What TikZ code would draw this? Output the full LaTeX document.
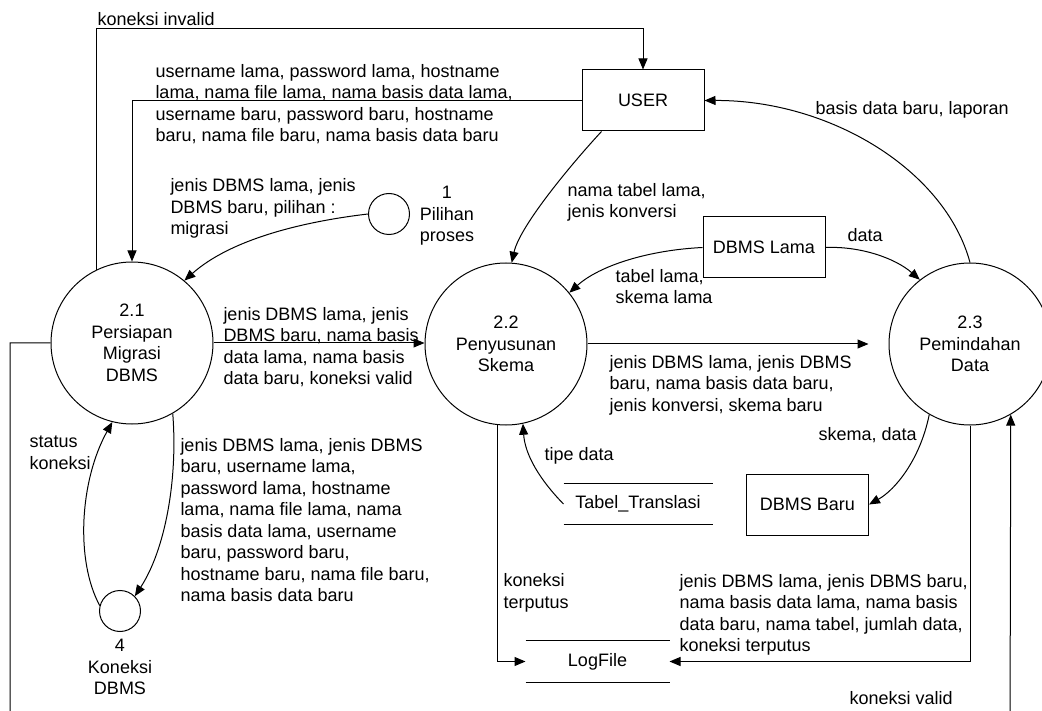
\documentclass[tikz,border=0pt]{standalone}
\usepackage{fontspec}
\setmainfont{Liberation Sans}
\usetikzlibrary{arrows.meta,calc}
\begin{document}
\begin{tikzpicture}[x=1pt,y=-1pt,line width=1pt,
  every node/.style={font=\fontsize{18}{21.5}\selectfont,inner sep=0pt},
  proc/.style={circle,draw,minimum size=162pt,align=center},
  small/.style={circle,draw,minimum size=41pt},
  ent/.style={draw,minimum width=122pt,minimum height=61pt},
  store/.style={minimum height=40pt},
  lbl/.style={anchor=north west,align=left},
  clbl/.style={anchor=north,align=center},
  arr/.style={-{Triangle[length=11pt,width=9pt]}}]
\useasboundingbox (0,0) rectangle (1042,711);

% processes
\node[proc] (c21) at (132,343) {2.1\\Persiapan\\Migrasi\\DBMS};
\node[proc] (c22) at (506,344) {2.2\\Penyusunan\\Skema};
\node[proc] (c23) at (970,344) {2.3\\Pemindahan\\Data};
\node[small] (c1) at (389,214) {};
\node[small] (c4) at (120,611) {};
\node[clbl] (l1) at (447,186) {1\\Pilihan\\proses};
\node[clbl] (l4) at (120,639) {4\\Koneksi\\DBMS};

% entities
\node[ent] (user) at (643,100.5) {USER};
\node[ent] (dl) at (764,247.5) {DBMS Lama};
\node[ent] (db) at (807.5,504.5) {DBMS Baru};

% data stores
\node[store,minimum width=148pt] (tt) at (638,504) {Tabel\_Translasi};
\node[store,minimum width=143pt,minimum height=41pt] (lf) at (597.5,661.5) {LogFile};
\draw (tt.north west) -- (tt.north east) (tt.south west) -- (tt.south east);
\draw (lf.north west) -- (lf.north east) (lf.south west) -- (lf.south east);

% helper coordinates
\coordinate (bl) at (10,740);
\coordinate (br) at (1010,740);

% flows
\draw[arr] (c21.116) |- ([yshift=41pt]user.north) -- (user.north);
\draw[arr] (user.west) -| (c21.north);
\draw[arr] (c1.west) .. controls (300,222) and (230,240) .. (c21.50);
\draw[arr] ([xshift=20pt]user.south west) .. controls (575,160) and (520,225) .. (c22.86);
\draw[arr] (dl.west) .. controls (650,250) and (600,265) .. (c22.39);
\draw[arr] (dl.east) .. controls (860,246) and (895,258) .. (c23.128);
\draw[arr] (c21.east) -- (c21.east -| c22.west);
\draw[arr] (c22.east) -- ([xshift=-20pt]c23.west);
\draw[arr] (c23.north) .. controls (945,170) and (830,100) .. (user.east);
\draw[arr] (c23.240) .. controls (920,460) and (895,490) .. (db.east);
\draw[arr] (tt.west) .. controls (540,480) and (525,455) .. (c22.-78);
\draw[arr] (c22.-96) |- (lf.west);
\draw[arr] (c23.south) |- (lf.east);
\draw[arr] (c21.west) -| (bl) -- (br) -- (c23.-60);
\draw[arr] (c21.-60) .. controls (178,480) and (165,550) .. (c4.45);
\draw[arr] (c4.165) .. controls (75,560) and (80,480) .. (c21.-104);

% flow labels
\node[lbl] (t1) at (97,12) {koneksi invalid};
\node[lbl] (t2) at (155,63.5) {username lama, password lama, hostname\\lama, nama file lama, nama basis data lama,\\username baru, password baru, hostname\\baru, nama file baru, nama basis data baru};
\node[lbl] (t3) at (815,100.5) {basis data baru, laporan};
\node[lbl] (t4) at (170,178) {jenis DBMS lama, jenis\\DBMS baru, pilihan :\\migrasi};
\node[lbl] (t6) at (567,182.5) {nama tabel lama,\\jenis konversi};
\node[lbl] (t7) at (847,227.5) {data};
\node[lbl] (t8) at (615,268.5) {tabel lama,\\skema lama};
\node[lbl] (t10) at (223,306.5) {jenis DBMS lama, jenis\\DBMS baru, nama basis\\data lama, nama basis\\data baru, koneksi valid};
\node[lbl] (t12) at (609,354.5) {jenis DBMS lama, jenis DBMS\\baru, nama basis data baru,\\jenis konversi, skema baru};
\node[lbl] (t14) at (29,435.5) {status\\koneksi};
\node[lbl] (t15) at (180,437.5) {jenis DBMS lama, jenis DBMS\\baru, username lama,\\password lama, hostname\\lama, nama file lama, nama\\basis data lama, username\\baru, password baru,\\hostname baru, nama file baru,\\nama basis data baru};
\node[lbl] (t17) at (544,446.5) {tipe data};
\node[lbl] (t18) at (818,426.5) {skema, data};
\node[lbl] (t19) at (503,573) {koneksi\\terputus};
\node[lbl] (t20) at (679,573.5) {jenis DBMS lama, jenis DBMS baru,\\nama basis data lama, nama basis\\data baru, nama tabel, jumlah data,\\koneksi terputus};
\node[lbl] (t21) at (849,690.5) {koneksi valid};
\end{tikzpicture}
\end{document}
